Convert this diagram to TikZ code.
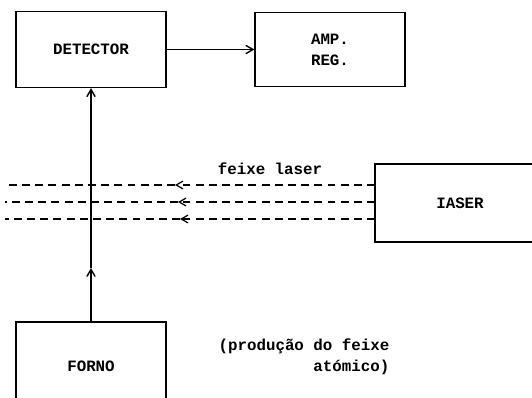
\documentclass[tikz,border=0pt]{standalone}
\usepackage{fontspec}
\setmonofont{Liberation Mono}
\usepackage{tikz}
\usetikzlibrary{arrows}
\tikzstyle{block} = [rectangle, minimum width=3cm, minimum height=1.52cm, text centered, draw=black, line width=0.7pt, font=\ttfamily\bfseries\fontsize{9}{12}\selectfont]
\tikzstyle{note}  = [font=\ttfamily\bfseries\fontsize{9}{12}\selectfont]
\tikzstyle{arrow} = [line width=0.8pt,->,>=angle 60]
\tikzstyle{beam}  = [line width=0.7pt, dash pattern=on 4.5pt off 3pt]

\begin{document}
\begin{tikzpicture}[node distance=2.5cm]

    \useasboundingbox (0,0) rectangle (10.64,-7.96);

    \node (detector) [block] at (1.82,-0.99)               {DETECTOR};
    \node (amp)      [block, align=left, minimum height=1.48cm, right of=detector, xshift=2.28cm] {AMP.\\REG.};
    \node (laser)    [block, minimum width=3.4cm, minimum height=1.56cm] at (9.2,-4.06) {IASER};
    \node (forno)    [block, minimum height=1.76cm] at (1.82,-7.32) {FORNO};

    \draw [arrow] (detector) -- (amp);

    % feixe atomico
    \coordinate (mid) at (1.82,-5.36);
    \draw [arrow] (forno.north) -- (mid);
    \draw [arrow] (mid) -- (detector.south);

    % feixe laser
    \foreach \y/\tip [count=\i] in {-3.70/3.50, -4.04/3.56, -4.38/3.60} {
        \coordinate (src\i) at (7.5,\y);
        \coordinate (tip\i) at (\tip,\y);
        \coordinate (end\i) at (0.1,\y);
        \draw [beam,->,>=angle 60] (src\i) -- (tip\i);
        \draw [beam] (tip\i) -- (end\i);
    }

    \node (beamlbl) [note] at (5.4,-3.38) {feixe laser};
    \node (fornolbl) [note, align=right] at (6.08,-7.14) {(produção do feixe\\atómico)};

\end{tikzpicture}
\end{document}
